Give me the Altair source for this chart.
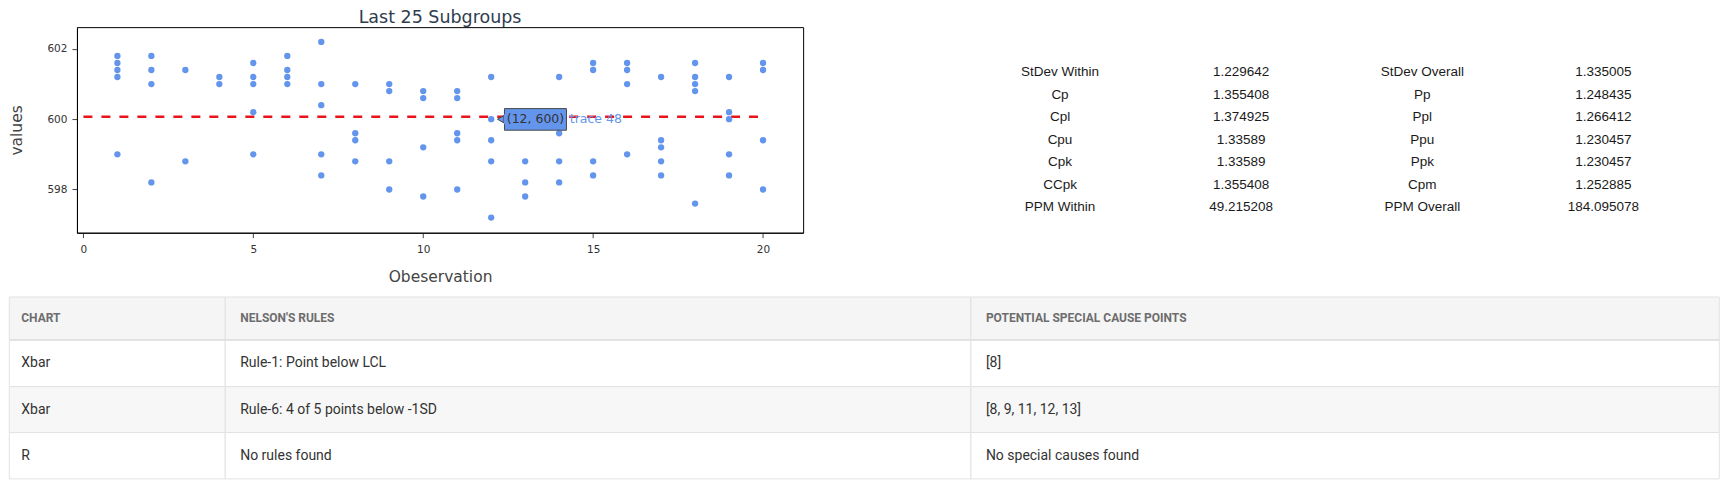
import altair as alt
import pandas as pd

# ---------------- data ----------------
obs_x = [1, 1, 1, 1, 1,
         2, 2, 2, 2,
         3, 3,
         4, 4,
         5, 5, 5, 5, 5,
         6, 6, 6, 6,
         7, 7, 7, 7, 7,
         8, 8, 8, 8,
         9, 9, 9, 9,
         10, 10, 10, 10,
         11, 11, 11, 11, 11,
         12, 12, 12, 12, 12,
         13, 13, 13,
         14, 14, 14, 14,
         15, 15, 15, 15,
         16, 16, 16, 16,
         17, 17, 17, 17, 17,
         18, 18, 18, 18, 18,
         19, 19, 19, 19, 19,
         20, 20, 20, 20]
obs_y = [601.8, 601.6, 601.4, 601.2, 599.0,
         601.8, 601.4, 601.0, 598.2,
         601.4, 598.8,
         601.2, 601.0,
         601.6, 601.2, 601.0, 600.2, 599.0,
         601.8, 601.4, 601.2, 601.0,
         602.2, 601.0, 600.4, 599.0, 598.4,
         601.0, 599.6, 599.4, 598.8,
         601.0, 600.8, 598.8, 598.0,
         600.8, 600.6, 599.2, 597.8,
         600.8, 600.6, 599.6, 599.4, 598.0,
         601.2, 600.0, 599.4, 598.8, 597.2,
         598.8, 598.2, 597.8,
         601.2, 599.6, 598.8, 598.2,
         601.6, 601.4, 598.8, 598.4,
         601.6, 601.4, 601.0, 599.0,
         601.2, 599.4, 599.2, 598.8, 598.4,
         601.6, 601.2, 601.0, 600.8, 597.6,
         601.2, 600.2, 600.0, 599.0, 598.4,
         601.6, 601.4, 599.4, 598.0]

center_x = [0, 20]
center_value = 600.07

hover_x = [12]
hover_y = [600]
hover_label = ["(12, 600)"]
hover_trace = ["trace 48"]

x_ticks = [0, 5, 10, 15, 20]
y_ticks = [598, 600, 602]

within_names = ["StDev Within", "Cp", "Cpl", "Cpu", "Cpk", "CCpk", "PPM Within"]
within_values = ["1.229642", "1.355408", "1.374925", "1.33589", "1.33589", "1.355408", "49.215208"]
overall_names = ["StDev Overall", "Pp", "Ppl", "Ppu", "Ppk", "Cpm", "PPM Overall"]
overall_values = ["1.335005", "1.248435", "1.266412", "1.230457", "1.230457", "1.252885", "184.095078"]

table_header = ["CHART", "NELSON'S RULES", "POTENTIAL SPECIAL CAUSE POINTS"]
table_chart = ["Xbar", "Xbar", "R"]
table_rules = ["Rule-1: Point below LCL", "Rule-6: 4 of 5 points below -1SD", "No rules found"]
table_points = ["[8]", "[8, 9, 11, 12, 13]", "No special causes found"]

# ---------------- layout options ----------------
col_widths = [216.3, 747, 749.7]
row_heights = [43, 46.7, 46, 46.3]
col_pad = [12, 15, 15]
row_fills = ["#f5f5f5", "#ffffff", "#f7f7f7", "#ffffff"]
LEFT_EXT = 68.7   # space left of the scatter plot area (y axis)

FONT = "DejaVu Sans"
TXT = "#444444"
BLUE = "#6495ED"

# ---------------- scatter ----------------
xs = alt.Scale(domain=[-0.19, 21.18], nice=False, zero=False)
ys = alt.Scale(domain=[596.77, 602.62], nice=False, zero=False)

x_axis = alt.Axis(values=x_ticks, format="d", title="Obeservation", grid=False,
                  domainColor="black", domainWidth=1, tickColor=TXT, tickSize=5,
                  labelFont=FONT, labelFontSize=10.5, labelColor="#333333", labelPadding=7,
                  titleFont=FONT, titleFontSize=15.5, titleFontWeight="normal",
                  titleColor=TXT, titlePadding=14)
y_axis = alt.Axis(values=y_ticks, format="d", title="values", grid=False,
                  domainColor="black", domainWidth=1, tickColor=TXT, tickSize=5,
                  labelFont=FONT, labelFontSize=10.5, labelColor="#333333", labelPadding=5,
                  titleFont=FONT, titleFontSize=15.5, titleFontWeight="normal",
                  titleColor=TXT, titlePadding=30, titleBaseline="middle")

obs_df = pd.DataFrame({"x": obs_x, "y": obs_y})
center_df = pd.DataFrame({"x": center_x, "y": [center_value] * len(center_x)})
hover_df = pd.DataFrame({"x": hover_x, "y": hover_y, "label": hover_label, "trace": hover_trace})

center_line = alt.Chart(center_df).mark_line(color="#e8141b", strokeWidth=2.5, strokeDash=[9, 9]).encode(
    x=alt.X("x:Q", scale=xs, axis=x_axis),
    y=alt.Y("y:Q", scale=ys, axis=y_axis),
)
points = alt.Chart(obs_df).mark_circle(size=40, color=BLUE, opacity=1).encode(
    x=alt.X("x:Q", scale=xs, axis=x_axis),
    y=alt.Y("y:Q", scale=ys, axis=y_axis),
)
box = alt.Chart(hover_df).mark_rect(color=BLUE, stroke="#444444", strokeWidth=1,
                                     xOffset=13.3, x2Offset=75.3, yOffset=-10.6, y2Offset=11).encode(
    x=alt.X("x:Q", scale=xs), x2="x:Q", y=alt.Y("y:Q", scale=ys), y2="y:Q")
arrow = alt.Chart(hover_df).mark_point(shape="triangle-left", filled=True, fill=BLUE, opacity=1,
                                       stroke="#444444", strokeWidth=1, size=55, xOffset=9.5).encode(
    x=alt.X("x:Q", scale=xs), y=alt.Y("y:Q", scale=ys))
arrow_fill = alt.Chart(hover_df).mark_rect(color=BLUE, xOffset=12.8, x2Offset=14, yOffset=-5, y2Offset=5).encode(
    x=alt.X("x:Q", scale=xs), x2="x:Q", y=alt.Y("y:Q", scale=ys), y2="y:Q")
box_text = alt.Chart(hover_df).mark_text(font=FONT, fontSize=12.5, color="#333333", align="center",
                                         baseline="middle", dx=44.3).encode(
    x=alt.X("x:Q", scale=xs), y=alt.Y("y:Q", scale=ys), text="label:N")
trace_text = alt.Chart(hover_df).mark_text(font=FONT, fontSize=12.5, color=BLUE, align="left",
                                           baseline="middle", dx=78.6).encode(
    x=alt.X("x:Q", scale=xs), y=alt.Y("y:Q", scale=ys), text="trace:N")

scatter = alt.layer(center_line, points, box, arrow, arrow_fill, box_text, trace_text).properties(
    width=726.6, height=205.7,
    title=alt.TitleParams("Last 25 Subgroups", font=FONT, fontSize=17.5, fontWeight="normal",
                          color="#2f3d4f", anchor="middle", offset=0.5),
    view=alt.ViewBackground(stroke="black", strokeWidth=1, fill="white"),
)

# ---------------- statistics text table ----------------
stats_cols = [within_names, within_values, overall_names, overall_values]
stats_records = []
for r in range(len(within_names)):
    for c, col in enumerate(stats_cols):
        stats_records.append({"row": r, "col": c, "text": col[r]})
stats_df = pd.DataFrame(stats_records)

stats = alt.Chart(stats_df).mark_text(font="Liberation Sans", fontSize=13.5, color="#1a1a1a",
                                      align="center", baseline="middle").encode(
    x=alt.X("col:O", scale=alt.Scale(type="point", padding=0.5), axis=None),
    y=alt.Y("row:O", scale=alt.Scale(type="point", padding=0, range=[45, 180]), axis=None),
    text="text:N",
).properties(width=725, height=205.7,
             view=alt.ViewBackground(fill="white", strokeOpacity=0))

# ---------------- Nelson rules table ----------------
table_cols = [table_chart, table_rules, table_points]
cells = []
y0 = 0.0
for r, h in enumerate(row_heights):
    x0 = 0.0
    for c, w in enumerate(col_widths):
        if r == 0:
            txt = table_header[c]
        else:
            txt = table_cols[c][r - 1]
        cells.append({"x0": x0, "x1": x0 + w, "y0": y0, "y1": y0 + h, "ym": y0 + h / 2,
                      "tx": x0 + col_pad[c], "text": txt, "fill": row_fills[r],
                      "kind": "header" if r == 0 else "body"})
        x0 += w
    y0 += h
cells_df = pd.DataFrame(cells)
total_w = sum(col_widths)
total_h = sum(row_heights)
# the table spans the full width, starting left of the plot-area origin
tx_scale = alt.Scale(domain=[0, total_w], range=[-LEFT_EXT + 1, total_w - LEFT_EXT - 1],
                     nice=False, zero=False)
ty_scale = alt.Scale(domain=[0, total_h], nice=False, zero=False, reverse=True)

rects = alt.Chart(cells_df).mark_rect(stroke="#e2e2e2", strokeWidth=1).encode(
    x=alt.X("x0:Q", scale=tx_scale, axis=None), x2="x1:Q",
    y=alt.Y("y0:Q", scale=ty_scale, axis=None), y2="y1:Q",
    fill=alt.Fill("fill:N", scale=None),
)
# thicker separator under the header row
sep_df = pd.DataFrame({"x0": [0], "x1": [total_w],
                       "y0": [row_heights[0] - 1], "y1": [row_heights[0] + 1]})
sep = alt.Chart(sep_df).mark_rect(color="#e2e2e2").encode(
    x=alt.X("x0:Q", scale=tx_scale, axis=None), x2="x1:Q",
    y=alt.Y("y0:Q", scale=ty_scale, axis=None), y2="y1:Q")
head_text = alt.Chart(cells_df).transform_filter("datum.kind == 'header'").mark_text(
    font="Roboto", fontSize=12, fontWeight="bold", color="#6d6d6d", align="left", baseline="middle").encode(
    x=alt.X("tx:Q", scale=tx_scale, axis=None), y=alt.Y("ym:Q", scale=ty_scale, axis=None), text="text:N")
body_text = alt.Chart(cells_df).transform_filter("datum.kind == 'body'").mark_text(
    font="Roboto", fontSize=14, color="#333333", align="left", baseline="middle").encode(
    x=alt.X("tx:Q", scale=tx_scale, axis=None), y=alt.Y("ym:Q", scale=ty_scale, axis=None), text="text:N")

table = alt.layer(rects, sep, head_text, body_text).properties(
    width=total_w - LEFT_EXT, height=total_h, view=alt.ViewBackground(strokeOpacity=0))

top = alt.hconcat(scatter, stats, spacing=165)
chart = alt.vconcat(top, table, spacing=10).properties(
    padding=0
).configure(background="white", padding=0)

chart.save("out.html", embed_options={"renderer": "svg", "actions": False})
